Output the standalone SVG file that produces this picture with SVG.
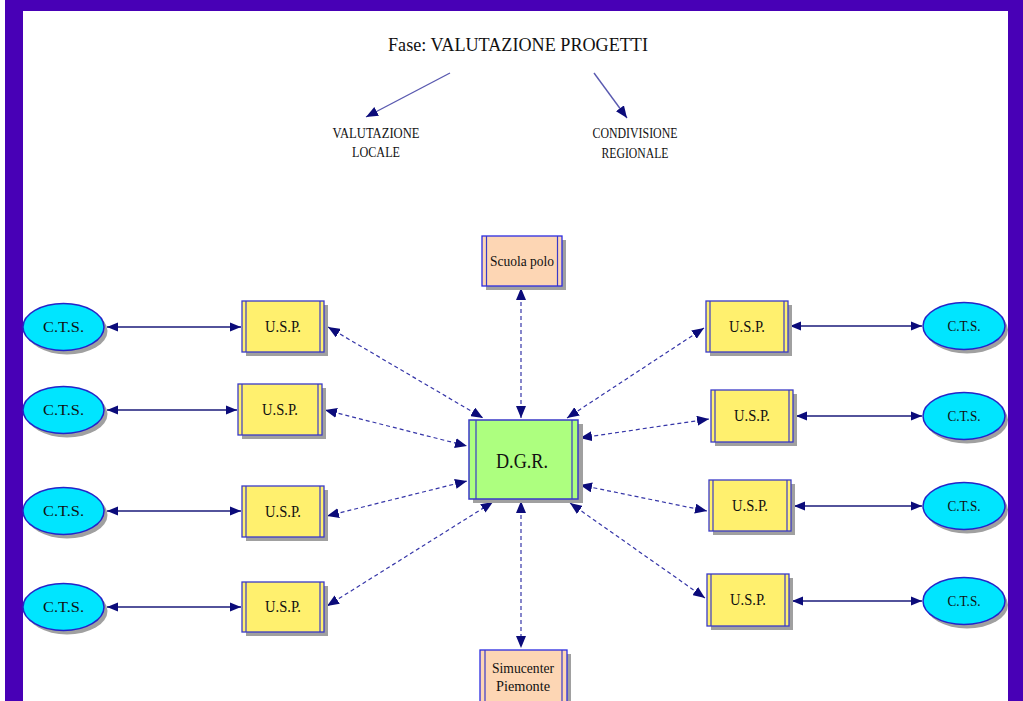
<svg xmlns="http://www.w3.org/2000/svg" width="1023" height="701" viewBox="0 0 1023 701">
<style>
text{font-family:"Liberation Serif","Times New Roman",serif;fill:#111;text-anchor:middle}
.usp{fill:#FFF06E;stroke:#3A3AC8;stroke-width:1.3}
.peach{fill:#FDD6B4;stroke:#2B2BE0;stroke-width:1.3}
.dgr{fill:#ADFF7F;stroke:#3A3AC8;stroke-width:1.5}
.in{stroke:#3A3AC8;stroke-width:1.2;fill:none}
.sh{fill:#A0A0A0}
.cts{fill:#00E5FF;stroke:#2424C8;stroke-width:1.5}
.solid{stroke:#1A1A7A;stroke-width:1.4;fill:none}
.dash{stroke:#3636A8;stroke-width:1.2;stroke-dasharray:4 3;fill:none}
.thin{stroke:#5A5AB0;stroke-width:1.4;fill:none}
</style>
<defs>
<marker id="ah" viewBox="0 0 12 10" refX="12" refY="5" markerWidth="12" markerHeight="10" markerUnits="userSpaceOnUse" orient="auto-start-reverse">
<path d="M0,0 L12,5 L0,10 Z" fill="#0B0B7A"/>
</marker>
<marker id="ahs" viewBox="0 0 12 10" refX="12" refY="5" markerWidth="11" markerHeight="10" markerUnits="userSpaceOnUse" orient="auto-start-reverse">
<path d="M0,0 L12,5 L0,10 Z" fill="#0B0B7A"/>
</marker>
</defs>
<rect x="0" y="0" width="1023" height="701" fill="#FFFFFF"/>
<rect x="5" y="0" width="1018" height="701" fill="#4800B6"/>
<rect x="23" y="11" width="985" height="690" fill="#FFFFFF"/>

<g id="title">
<text x="518" y="51" font-size="19" textLength="260" lengthAdjust="spacingAndGlyphs">Fase: VALUTAZIONE PROGETTI</text>
</g>
<g id="valutazione-locale">
<text x="376" y="138" font-size="14" textLength="87" lengthAdjust="spacingAndGlyphs">VALUTAZIONE</text>
<text x="376" y="157" font-size="14" textLength="48" lengthAdjust="spacingAndGlyphs">LOCALE</text>
</g>
<g id="condivisione-regionale">
<text x="635" y="138" font-size="14" textLength="85" lengthAdjust="spacingAndGlyphs">CONDIVISIONE</text>
<text x="635" y="158" font-size="14" textLength="67" lengthAdjust="spacingAndGlyphs">REGIONALE</text>
</g>

<g id="connectors">
<line class="thin" x1="450" y1="73" x2="366" y2="117" marker-end="url(#ah)"/>
<line class="thin" x1="594" y1="73" x2="627" y2="118" marker-end="url(#ah)"/>

<line class="solid" x1="107" y1="327" x2="241" y2="327" marker-start="url(#ahs)" marker-end="url(#ahs)"/>
<line class="solid" x1="107" y1="410" x2="237" y2="410" marker-start="url(#ahs)" marker-end="url(#ahs)"/>
<line class="solid" x1="107" y1="511" x2="241" y2="511" marker-start="url(#ahs)" marker-end="url(#ahs)"/>
<line class="solid" x1="107" y1="607" x2="241" y2="607" marker-start="url(#ahs)" marker-end="url(#ahs)"/>
<line class="solid" x1="790" y1="326" x2="922" y2="326" marker-start="url(#ahs)" marker-end="url(#ahs)"/>
<line class="solid" x1="796" y1="416" x2="922" y2="416" marker-start="url(#ahs)" marker-end="url(#ahs)"/>
<line class="solid" x1="794" y1="506" x2="922" y2="506" marker-start="url(#ahs)" marker-end="url(#ahs)"/>
<line class="solid" x1="792" y1="601" x2="922" y2="601" marker-start="url(#ahs)" marker-end="url(#ahs)"/>

<line class="dash" x1="521" y1="288" x2="521" y2="418" marker-start="url(#ah)" marker-end="url(#ah)"/>
<line class="dash" x1="521" y1="501" x2="521" y2="648" marker-start="url(#ah)" marker-end="url(#ah)"/>
<line class="dash" x1="328" y1="327" x2="483" y2="418" marker-start="url(#ah)" marker-end="url(#ah)"/>
<line class="dash" x1="325" y1="410" x2="467" y2="446" marker-start="url(#ah)" marker-end="url(#ah)"/>
<line class="dash" x1="327" y1="516" x2="467" y2="481" marker-start="url(#ah)" marker-end="url(#ah)"/>
<line class="dash" x1="327" y1="606" x2="493" y2="502" marker-start="url(#ah)" marker-end="url(#ah)"/>
<line class="dash" x1="704" y1="328" x2="567" y2="418" marker-start="url(#ah)" marker-end="url(#ah)"/>
<line class="dash" x1="709" y1="419" x2="580" y2="438" marker-start="url(#ah)" marker-end="url(#ah)"/>
<line class="dash" x1="707" y1="511" x2="580" y2="485" marker-start="url(#ah)" marker-end="url(#ah)"/>
<line class="dash" x1="705" y1="598" x2="570" y2="503" marker-start="url(#ah)" marker-end="url(#ah)"/>
</g>

<g id="scuola-polo">
<rect class="sh" x="486" y="240" width="80" height="50"/>
<rect class="peach" x="482" y="236" width="80" height="50"/>
<line class="in" x1="486.5" y1="236" x2="486.5" y2="286"/><line class="in" x1="557.5" y1="236" x2="557.5" y2="286"/>
<text x="522" y="266" font-size="15" textLength="64" lengthAdjust="spacingAndGlyphs">Scuola polo</text>
</g>

<g id="dgr">
<rect class="sh" x="473" y="424" width="110" height="79"/>
<rect class="dgr" x="469" y="420" width="109" height="79"/>
<line class="in" x1="476" y1="420" x2="476" y2="499"/><line class="in" x1="572" y1="420" x2="572" y2="499"/>
<text x="522" y="468" font-size="22" textLength="52" lengthAdjust="spacingAndGlyphs">D.G.R.</text>
</g>

<g id="simucenter">
<rect class="sh" x="484" y="654" width="87" height="50"/>
<rect class="peach" x="480" y="650" width="87" height="55"/>
<line class="in" x1="485" y1="650" x2="485" y2="701"/><line class="in" x1="562" y1="650" x2="562" y2="701"/>
<text x="523" y="673" font-size="15" textLength="62" lengthAdjust="spacingAndGlyphs">Simucenter</text>
<text x="523" y="691" font-size="15" textLength="54" lengthAdjust="spacingAndGlyphs">Piemonte</text>
</g>

<g id="usp-l1">
<rect class="sh" x="246" y="305" width="82" height="51"/>
<rect class="usp" x="242" y="301" width="82" height="51"/>
<line class="in" x1="246" y1="301" x2="246" y2="352"/><line class="in" x1="320" y1="301" x2="320" y2="352"/>
<text x="283" y="332" font-size="16" textLength="36" lengthAdjust="spacingAndGlyphs">U.S.P.</text>
</g>
<g id="usp-l2">
<rect class="sh" x="242" y="388" width="84" height="51"/>
<rect class="usp" x="238" y="384" width="84" height="51"/>
<line class="in" x1="242" y1="384" x2="242" y2="435"/><line class="in" x1="318" y1="384" x2="318" y2="435"/>
<text x="280" y="415" font-size="16" textLength="36" lengthAdjust="spacingAndGlyphs">U.S.P.</text>
</g>
<g id="usp-l3">
<rect class="sh" x="246" y="490" width="82" height="51"/>
<rect class="usp" x="242" y="486" width="82" height="51"/>
<line class="in" x1="246" y1="486" x2="246" y2="537"/><line class="in" x1="320" y1="486" x2="320" y2="537"/>
<text x="283" y="517" font-size="16" textLength="36" lengthAdjust="spacingAndGlyphs">U.S.P.</text>
</g>
<g id="usp-l4">
<rect class="sh" x="246" y="586" width="82" height="50"/>
<rect class="usp" x="242" y="582" width="82" height="50"/>
<line class="in" x1="246" y1="582" x2="246" y2="632"/><line class="in" x1="320" y1="582" x2="320" y2="632"/>
<text x="283" y="612" font-size="16" textLength="36" lengthAdjust="spacingAndGlyphs">U.S.P.</text>
</g>

<g id="usp-r1">
<rect class="sh" x="710" y="305" width="82" height="51"/>
<rect class="usp" x="706" y="301" width="82" height="51"/>
<line class="in" x1="710" y1="301" x2="710" y2="352"/><line class="in" x1="784" y1="301" x2="784" y2="352"/>
<text x="747" y="332" font-size="16" textLength="36" lengthAdjust="spacingAndGlyphs">U.S.P.</text>
</g>
<g id="usp-r2">
<rect class="sh" x="715" y="394" width="82" height="52"/>
<rect class="usp" x="711" y="390" width="82" height="52"/>
<line class="in" x1="715" y1="390" x2="715" y2="442"/><line class="in" x1="789" y1="390" x2="789" y2="442"/>
<text x="752" y="421" font-size="16" textLength="36" lengthAdjust="spacingAndGlyphs">U.S.P.</text>
</g>
<g id="usp-r3">
<rect class="sh" x="713" y="484" width="82" height="51"/>
<rect class="usp" x="709" y="480" width="82" height="51"/>
<line class="in" x1="713" y1="480" x2="713" y2="531"/><line class="in" x1="787" y1="480" x2="787" y2="531"/>
<text x="750" y="511" font-size="16" textLength="36" lengthAdjust="spacingAndGlyphs">U.S.P.</text>
</g>
<g id="usp-r4">
<rect class="sh" x="711" y="578" width="82" height="52"/>
<rect class="usp" x="707" y="574" width="82" height="52"/>
<line class="in" x1="711" y1="574" x2="711" y2="626"/><line class="in" x1="785" y1="574" x2="785" y2="626"/>
<text x="748" y="605" font-size="16" textLength="36" lengthAdjust="spacingAndGlyphs">U.S.P.</text>
</g>

<g id="cts-l1"><ellipse class="sh" cx="67" cy="331" rx="40.5" ry="23.5"/><ellipse class="cts" cx="63.5" cy="327" rx="40.5" ry="23.5"/><text x="63.5" y="332" font-size="15" textLength="41" lengthAdjust="spacingAndGlyphs">C.T.S.</text></g>
<g id="cts-l2"><ellipse class="sh" cx="67" cy="414" rx="40.5" ry="23.5"/><ellipse class="cts" cx="63.5" cy="410" rx="40.5" ry="23.5"/><text x="63.5" y="415" font-size="15" textLength="41" lengthAdjust="spacingAndGlyphs">C.T.S.</text></g>
<g id="cts-l3"><ellipse class="sh" cx="67" cy="515" rx="40.5" ry="23.5"/><ellipse class="cts" cx="63.5" cy="511" rx="40.5" ry="23.5"/><text x="63.5" y="516" font-size="15" textLength="41" lengthAdjust="spacingAndGlyphs">C.T.S.</text></g>
<g id="cts-l4"><ellipse class="sh" cx="67" cy="611" rx="40.5" ry="23.5"/><ellipse class="cts" cx="63.5" cy="607" rx="40.5" ry="23.5"/><text x="63.5" y="612" font-size="15" textLength="41" lengthAdjust="spacingAndGlyphs">C.T.S.</text></g>

<g id="cts-r1"><ellipse class="sh" cx="967" cy="330" rx="41" ry="23.5"/><ellipse class="cts" cx="964" cy="326" rx="41" ry="23.5"/><text x="964" y="331" font-size="15" textLength="33" lengthAdjust="spacingAndGlyphs">C.T.S.</text></g>
<g id="cts-r2"><ellipse class="sh" cx="967" cy="420" rx="41" ry="23.5"/><ellipse class="cts" cx="964" cy="416" rx="41" ry="23.5"/><text x="964" y="421" font-size="15" textLength="33" lengthAdjust="spacingAndGlyphs">C.T.S.</text></g>
<g id="cts-r3"><ellipse class="sh" cx="967" cy="510" rx="41" ry="23.5"/><ellipse class="cts" cx="964" cy="506" rx="41" ry="23.5"/><text x="964" y="511" font-size="15" textLength="33" lengthAdjust="spacingAndGlyphs">C.T.S.</text></g>
<g id="cts-r4"><ellipse class="sh" cx="967" cy="605" rx="41" ry="23.5"/><ellipse class="cts" cx="964" cy="601" rx="41" ry="23.5"/><text x="964" y="606" font-size="15" textLength="33" lengthAdjust="spacingAndGlyphs">C.T.S.</text></g>
</svg>
